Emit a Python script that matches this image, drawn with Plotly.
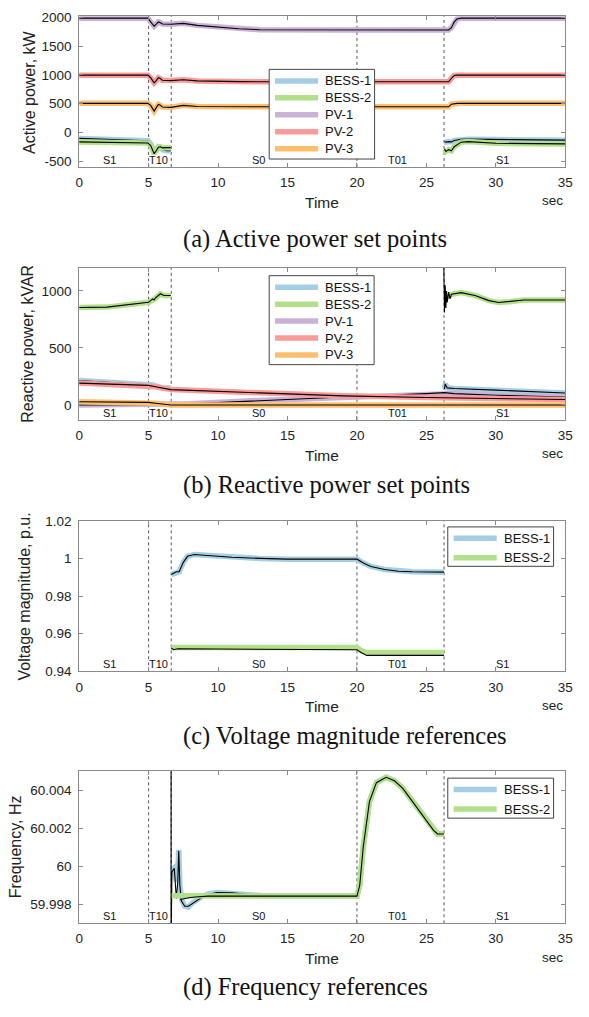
import plotly.graph_objects as go

W, H = 589, 1017

# ---------------- data ----------------
series_names = ["BESS-1", "BESS-2", "PV-1", "PV-2", "PV-3"]
series_colors = ["#a6cee3", "#b2df8a", "#cab2d6", "#fb9a99", "#fdbf6f"]

x_ticks = [0, 5, 10, 15, 20, 25, 30, 35]
boundaries = [5.0, 6.63, 20.0, 26.27]
region_labels = ["S1", "T10", "S0", "T01", "S1"]
region_label_t = [2.15, 5.7, 12.9, 22.9, 30.5]

# (a) active power, kW
ta_pv = [0, 4.95, 5.15, 5.4, 5.55, 5.7, 5.85, 6.0, 6.6, 7.0, 7.5, 8.5, 10, 11.5, 13, 20, 26.6, 26.8, 27.0, 27.2, 27.5, 35]
pa_pv1 = [1985, 1985, 1920, 1845, 1880, 1920, 1905, 1885, 1880, 1890, 1895, 1860, 1830, 1800, 1785, 1780, 1780, 1820, 1920, 1970, 1985, 1985]
pa_pv2 = [995, 995, 950, 860, 900, 950, 935, 905, 900, 905, 915, 895, 885, 882, 880, 880, 880, 940, 990, 995, 995, 995]
pa_pv3 = [505, 505, 470, 370, 430, 485, 470, 440, 435, 450, 470, 450, 445, 445, 445, 445, 445, 490, 500, 505, 505, 505]
ta_bess = [0, 2, 4.95, 5.15, 5.4, 5.55, 5.7, 5.85, 6.0, 6.3, 6.6, None,
           26.3, 26.4, 26.6, 26.8, 27.0, 27.5, 28, 30, 35]
pa_bess1 = [-105, -120, -145, -200, -330, -300, -250, -270, -300, -320, -320, None,
            -160, -170, -160, -165, -140, -120, -118, -125, -135]
pa_bess2 = [-165, -175, -185, -230, -370, -320, -260, -250, -270, -265, -265, None,
            -290, -330, -300, -320, -250, -170, -160, -190, -200]

# (b) reactive power, kVAR
tb_bess1 = [0, 5, 5.3, 6.0, 6.6, None, 26.3, 26.35, 26.5, 27, 30, 35]
qb_bess1 = [215, 180, 175, 150, 150, None, 140, 185, 150, 145, 130, 105]
tb_bess2 = [0, 2, 5, 5.3, 5.5, 5.85, 6.1, 6.6, None,
            26.3, 26.6, 27, 27.5, 28.5, 29.5, 30.2, 31, 32, 35]
qb_bess2 = [855, 858, 900, 915, 935, 975, 960, 960, None,
            940, 960, 975, 985, 960, 915, 898, 905, 920, 920]
tb_bess2_meas = [0, 2, 5, 5.3, 5.4, 5.5, 5.85, 6.1, 6.6, None,
                 26.25, 26.3, 26.35, 26.4, 26.45, 26.5, 26.6, 26.7, 26.8, 27, 27.5, 28.5, 29.5, 30.2, 31, 32, 35]
qb_bess2_meas = [855, 858, 900, 930, 920, 940, 975, 960, 960, None,
                 1250, 810, 1050, 850, 1000, 900, 990, 930, 970, 975, 985, 960, 915, 898, 905, 920, 920]
tb_pv1 = [0, 5, 6.6, 8, 13, 19, 25, 26.3, 27, 30, 35]
qb_pv1 = [0, 0, 3, 10, 40, 70, 100, 108, 100, 85, 70]
tb_pv2 = [0, 5, 5.5, 6.6, 13, 19, 25, 31, 35]
qb_pv2 = [192, 172, 160, 135, 106, 80, 65, 54, 48]
tb_pv3 = [0, 5, 5.5, 6.6, 35]
qb_pv3 = [28, 23, 15, 0, 0]

# (c) voltage magnitude, p.u.
tc_bess1 = [6.63, 7.0, 7.2, 7.5, 7.8, 8.3, 9, 10, 11, 13, 15, 20, 20.5, 21, 22, 23, 24, 26.27]
vc_bess1 = [0.9915, 0.993, 0.993, 0.998, 1.0012, 1.0022, 1.0018, 1.0012, 1.0007, 1.0001, 0.9997, 0.9997,
            0.9975, 0.9958, 0.9942, 0.9933, 0.993, 0.9928]
tc_bess2 = [6.63, 20, 20.3, 20.7, 26.27]
vc_bess2 = [0.9527, 0.9527, 0.951, 0.9500, 0.9500]
tc_bess2_meas = [6.63, 6.8, 7.1, 20, 20.3, 20.7, 26.27]
vc_bess2_meas = [0.9525, 0.9515, 0.952, 0.9515, 0.9500, 0.9485, 0.9485]

# (d) frequency, Hz
td_common = [20, 20.2, 20.45, 20.9, 21.4, 22.1, 22.7, 23.3, 24.0, 24.5, 25.0, 25.5, 25.8, 26.27]
fd_common = [59.99843, 59.9990, 60.0010, 60.0034, 60.0044, 60.00468, 60.0045, 60.0041, 60.0034, 60.0029,
             60.0024, 60.0019, 60.0017, 60.0017]
td_bess1 = [6.63, 6.8, 7.0, 7.1, 7.17, 7.25, 7.4, 7.6, 7.85, 8.2, 8.7, 9.3, 10.0, 11, 12, 13.4] + td_common
fd_bess1 = [59.9998, 59.9999, 59.9992, 59.9996, 60.00087, 59.9990, 59.9982, 59.9979, 59.99785, 59.9981,
            59.99835, 59.99855, 59.99862, 59.9986, 59.99852, 59.99843] + fd_common
td_bess2 = [6.66] + td_common
fd_bess2 = [59.99845] + fd_common
td_bess1_meas = [6.62, 6.62, 6.68, 6.85, 7.0, 7.1, 7.17, 7.25, 7.35, 7.6, 7.87, 8.3, 9.0, 9.9, 11, 13.4] + td_common
fd_bess1_meas = [60.006, 59.996, 59.9997, 59.9999, 59.9983, 59.9992, 60.0008, 59.9990, 59.9982, 59.9979,
                 59.9979, 59.9981, 59.99845, 59.99862, 59.9986, 59.99843] + fd_common
td_bess2_meas = [7.28, 7.6, 8.0, 8.6, 9.3] + td_common
fd_bess2_meas = [59.99825, 59.9983, 59.99836, 59.9984, 59.99843] + fd_common

# ---------------- layout helpers ----------------
SANS = "Liberation Sans, Arial, Helvetica, sans-serif"
SERIF = "Liberation Serif, Times New Roman, serif"
AX_L, AX_R = 76.7, 573.0

panels = [
    dict(top=9.3, bot=162.3, yr=[-600, 2020], yt=[-500, 0, 500, 1000, 1500, 2000],
         ytt=["-500", "0", "500", "1000", "1500", "2000"], ylabel="Active power, kW", ylx=26,
         caption="(a) Active power set points", cap_y=235,
         leg=dict(x0=270.7, x1=378.3, y0=63.3, y1=154.3, first=11.7, step=17.2, n=5)),
    dict(top=265.0, bot=419.0, yr=[-130, 1200], yt=[0, 500, 1000], ytt=["0", "500", "1000"],
         ylabel="Reactive power, kVAR", ylx=24.4,
         caption="(b) Reactive power set points", cap_y=485,
         leg=dict(x0=270.7, x1=377.8, y0=272.7, y1=363.0, first=11.7, step=17.2, n=5)),
    dict(top=521.7, bot=674.3, yr=[0.94, 1.02], yt=[0.94, 0.96, 0.98, 1.0, 1.02],
         ytt=["0.94", "0.96", "0.98", "1", "1.02"], ylabel="Voltage magnitude, p.u.", ylx=20.7,
         caption="(c) Voltage magnitude references", cap_y=740,
         leg=dict(x0=453, x1=561, y0=527.7, y1=567.7, first=11.4, step=19.8, n=2)),
    dict(top=775.7, bot=930.0, yr=[59.997, 60.005], yt=[59.998, 60.0, 60.002, 60.004],
         ytt=["59.998", "60", "60.002", "60.004"], ylabel="Frequency, Hz", ylx=11.3,
         caption="(d) Frequency references", cap_y=995,
         leg=dict(x0=453, x1=561, y0=782.7, y1=823.3, first=11.6, step=19.8, n=2)),
]

fig = go.Figure()


def ax_suffix(k):
    return "" if k == 1 else str(k)


def add_pair(k, t, v, name, color, meas_t=None, meas_v=None):
    s = ax_suffix(k)
    fig.add_trace(go.Scatter(x=t, y=v, mode="lines", name=name,
                             line=dict(color=color, width=5.5),
                             xaxis="x" + s, yaxis="y" + s,
                             showlegend=False, connectgaps=False, hoverinfo="skip"))
    fig.add_trace(go.Scatter(x=meas_t if meas_t is not None else t,
                             y=meas_v if meas_v is not None else v, mode="lines",
                             name=name + " (measured)",
                             line=dict(color="black", width=1.1),
                             xaxis="x" + s, yaxis="y" + s, showlegend=False,
                             connectgaps=False, hoverinfo="skip"))


# panel a
add_pair(1, ta_bess, pa_bess1, series_names[0], series_colors[0])
add_pair(1, ta_bess, pa_bess2, series_names[1], series_colors[1])
add_pair(1, ta_pv, pa_pv1, series_names[2], series_colors[2])
add_pair(1, ta_pv, pa_pv2, series_names[3], series_colors[3])
add_pair(1, ta_pv, pa_pv3, series_names[4], series_colors[4])
# panel b
add_pair(2, tb_bess1, qb_bess1, series_names[0], series_colors[0])
add_pair(2, tb_bess2, qb_bess2, series_names[1], series_colors[1], tb_bess2_meas, qb_bess2_meas)
add_pair(2, tb_pv1, qb_pv1, series_names[2], series_colors[2])
add_pair(2, tb_pv2, qb_pv2, series_names[3], series_colors[3])
add_pair(2, tb_pv3, qb_pv3, series_names[4], series_colors[4])
# panel c
add_pair(3, tc_bess1, vc_bess1, series_names[0], series_colors[0])
add_pair(3, tc_bess2, vc_bess2, series_names[1], series_colors[1], tc_bess2_meas, vc_bess2_meas)
# panel d
add_pair(4, td_bess1, fd_bess1, series_names[0], series_colors[0], td_bess1_meas, fd_bess1_meas)
add_pair(4, td_bess2, fd_bess2, series_names[1], series_colors[1], td_bess2_meas, fd_bess2_meas)

layout = dict(width=W, height=H, margin=dict(l=0, r=0, t=0, b=0),
              paper_bgcolor="white", plot_bgcolor="white", showlegend=False,
              font=dict(family=SANS, size=13.5, color="#222"))
annotations = []
shapes = []


def px(x):
    return x / W


def py(y):
    return 1 - y / H


for i, p in enumerate(panels):
    k = i + 1
    s = ax_suffix(k)
    axis_common = dict(showline=True, linecolor="#8a8a8a", linewidth=1, mirror="ticks",
                       ticks="inside", ticklen=4, tickcolor="#8a8a8a", showgrid=False,
                       zeroline=False, tickfont=dict(family=SANS, size=13.5, color="#222"))
    layout["xaxis" + s] = dict(axis_common, domain=[px(AX_L), px(AX_R)], range=[0, 35],
                               tickvals=x_ticks, ticktext=[str(v) for v in x_ticks],
                               anchor="y" + s, ticklabelstandoff=3)
    layout["yaxis" + s] = dict(axis_common, domain=[py(p["bot"]), py(p["top"])],
                               range=p["yr"], tickvals=p["yt"], ticktext=p["ytt"],
                               anchor="x" + s, ticklabelstandoff=4)
    # boundaries
    for b in boundaries:
        shapes.append(dict(type="line", xref="x" + s, yref="y" + s + " domain",
                           x0=b, x1=b, y0=0, y1=1,
                           line=dict(color="#555", width=1, dash="dot"), layer="below"))
    # region labels
    for lab, tt in zip(region_labels, region_label_t):
        annotations.append(dict(text=lab, x=tt, y=0, xref="x" + s, yref="y" + s + " domain",
                                xanchor="center", yanchor="bottom", yshift=-1, showarrow=False,
                                font=dict(family=SANS, size=11, color="#111")))
    # legend box (drawn on top of the data)
    L = p["leg"]
    shapes.append(dict(type="rect", xref="paper", yref="paper",
                       x0=px(L["x0"]), x1=px(L["x1"]), y0=py(L["y1"]), y1=py(L["y0"]),
                       fillcolor="white", line=dict(color="#444", width=1), layer="above"))
    for j in range(L["n"]):
        yy = L["y0"] + L["first"] + j * L["step"]
        shapes.append(dict(type="line", xref="paper", yref="paper",
                           x0=px(L["x0"] + 6), x1=px(L["x0"] + 50), y0=py(yy), y1=py(yy),
                           line=dict(color=series_colors[j], width=5.5), layer="above"))
        annotations.append(dict(text=series_names[j], x=px(L["x0"] + 55), y=py(yy),
                                xref="paper", yref="paper", xanchor="left", yanchor="middle",
                                showarrow=False, font=dict(family=SANS, size=13, color="#111")))
    # axis labels
    annotations.append(dict(text="Time", x=px((AX_L + AX_R) / 2), y=py(p["bot"] + 36),
                            xref="paper", yref="paper", xanchor="center", yanchor="middle",
                            showarrow=False, font=dict(family=SANS, size=15.5, color="#222")))
    annotations.append(dict(text="sec", x=px(AX_R), y=py(p["bot"] + 34.5),
                            xref="paper", yref="paper", xanchor="right", yanchor="middle",
                            showarrow=False, font=dict(family=SANS, size=13.5, color="#222")))
    annotations.append(dict(text=p["ylabel"], x=px(p["ylx"]), y=py((p["top"] + p["bot"]) / 2),
                            xref="paper", yref="paper", xanchor="center", yanchor="middle",
                            textangle=-90, showarrow=False,
                            font=dict(family=SANS, size=16, color="#222")))
    annotations.append(dict(text=p["caption"], x=px(181), y=py(p["cap_y"]),
                            xref="paper", yref="paper", xanchor="left", yanchor="middle",
                            showarrow=False, font=dict(family=SERIF, size=24.5, color="#111")))

layout["annotations"] = annotations
layout["shapes"] = shapes
fig.update_layout(**layout)

fig.write_html("out.html", config={"displayModeBar": False},
               post_script="document.body.style.margin='0';document.body.style.overflow='hidden';")
